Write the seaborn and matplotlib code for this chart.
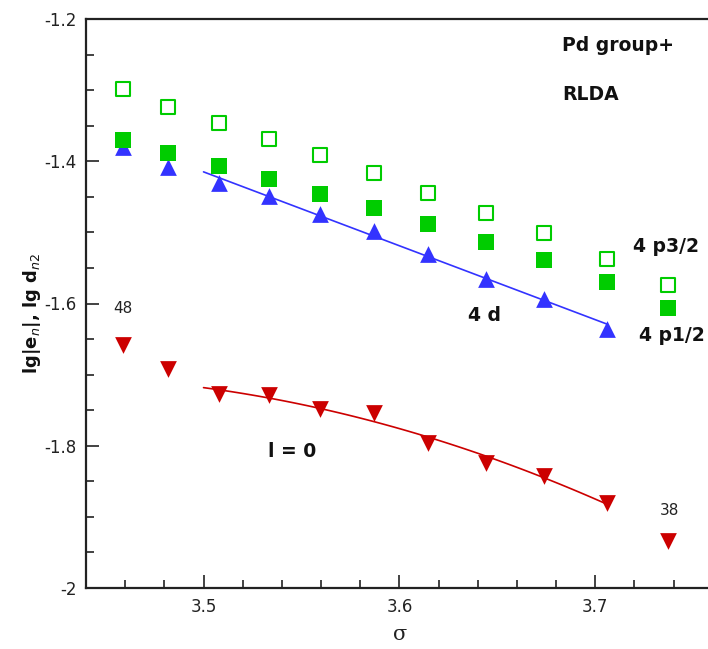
import numpy as np
import matplotlib
matplotlib.use("Agg")
import matplotlib.pyplot as plt
import seaborn as sns
from matplotlib.ticker import MultipleLocator, FixedLocator

# ---- data ----
sigma = [3.4587, 3.4821, 3.5077, 3.5332, 3.5597, 3.5872, 3.6148, 3.6444, 3.6740, 3.7061, 3.7372]
p32 = [-1.2986, -1.3240, -1.3465, -1.3690, -1.3915, -1.4169, -1.4450, -1.4732, -1.5014, -1.5380, -1.5746]
p12 = [-1.3704, -1.3880, -1.4070, -1.4246, -1.4465, -1.4662, -1.4887, -1.5140, -1.5394, -1.5704, -1.6070]
d4 = [-1.3803, -1.4077, -1.4310, -1.4493, -1.4746, -1.4979, -1.5310, -1.5655, -1.5937, -1.6359]
s0 = [-1.6590, -1.6915, -1.7268, -1.7280, -1.7480, -1.7535, -1.7960, -1.8240, -1.8420, -1.8800, -1.9340]

xticks = [3.5, 3.6, 3.7]
xticklabels = ["3.5", "3.6", "3.7"]
yticks = [-2.0, -1.8, -1.6, -1.4, -1.2]
yticklabels = ["-2", "-1.8", "-1.6", "-1.4", "-1.2"]

GREEN = "#00cc00"
BLUE = "#3333ff"
RED = "#cc0000"

sns.set_style("ticks")
plt.rcParams["font.family"] = ["DejaVu Sans"]
plt.rcParams["axes.unicode_minus"] = False

W, H = 708, 649
fig = plt.figure(figsize=(W / 100, H / 100), dpi=100)
# left spine at x=86 px, bottom at y=588 px, top at y=19 px; x axis continues past right edge
ax = fig.add_axes([86 / W, (H - 588) / H, (752 - 86) / W, (588 - 19) / H])

# fitted curves (from the data points 3..10)
xs = np.array(sigma[2:10])
c_d = np.polyfit(xs, np.array(d4[2:10]), 1)
c_s = np.polyfit(xs, np.array(s0[2:10]), 2)
xf = np.linspace(3.5, sigma[9], 60)
sns.lineplot(x=xf, y=np.polyval(c_d, xf), color=BLUE, lw=1.2, ax=ax, zorder=2)
sns.lineplot(x=xf, y=np.polyval(c_s, xf), color=RED, lw=1.2, ax=ax, zorder=2)

sns.scatterplot(x=sigma[:len(d4)], y=d4, marker="^", s=145, color=BLUE, linewidth=0, ax=ax, zorder=3)
sns.scatterplot(x=sigma, y=s0, marker="v", s=145, color=RED, linewidth=0, ax=ax, zorder=3)
sns.scatterplot(x=sigma, y=p12, marker="s", s=122, color=GREEN, linewidth=0, ax=ax, zorder=4)
sns.scatterplot(x=sigma, y=p32, marker="s", s=110, color="white", edgecolor=GREEN, linewidth=1.5, ax=ax, zorder=4)

ax.set_xlim(3.44, 3.78)
ax.set_ylim(-2.0, -1.2)
ax.xaxis.set_major_locator(FixedLocator(xticks))
ax.set_xticklabels(xticklabels)
ax.xaxis.set_minor_locator(MultipleLocator(0.02))
ax.yaxis.set_major_locator(FixedLocator(yticks))
ax.set_yticklabels(yticklabels)
ax.yaxis.set_minor_locator(MultipleLocator(0.05))

ax.tick_params(which="both", direction="in", width=1.2, colors="#222222",
               labelsize=12, top=False, right=False)
ax.tick_params(which="major", length=9.5, pad=7)
ax.tick_params(which="minor", length=6)
for sp in ax.spines.values():
    sp.set_linewidth(1.6)
    sp.set_color("#222222")
ax.spines["right"].set_visible(False)

ax.set_xlabel("σ", fontsize=15, family="DejaVu Serif", color="#222222")
ax.xaxis.set_label_coords((400 - 86) / 666, (588 - 635) / 569)
ax.xaxis.label.set_va("center")
ax.set_ylabel(r"lg|e$_n$|, lg d$_{n2}$", fontsize=13, fontweight="bold", color="#111111")
ax.yaxis.set_label_coords((32 - 86) / 666, (588 - 313) / 569)
ax.yaxis.label.set_va("center")

bold = dict(fontweight="bold", fontsize=13.5, color="#111111", ha="left", va="center")
ax.text(3.6829, -1.2366, "Pd group+", **bold)
ax.text(3.6829, -1.3056, "RLDA", **bold)
ax.text(3.7191, -1.5197, "4 p3/2", **bold)
ax.text(3.6349, -1.6169, "4 d", **bold)
ax.text(3.7221, -1.6450, "4 p1/2", **bold)
ax.text(3.5329, -1.8085, "l = 0", **bold)
small = dict(fontsize=11, color="#222222", ha="center", va="center")
ax.text(3.4589, -1.6070, "48", **small)
ax.text(3.7380, -1.8915, "38", **small)

fig.savefig("out.png", dpi=100)
